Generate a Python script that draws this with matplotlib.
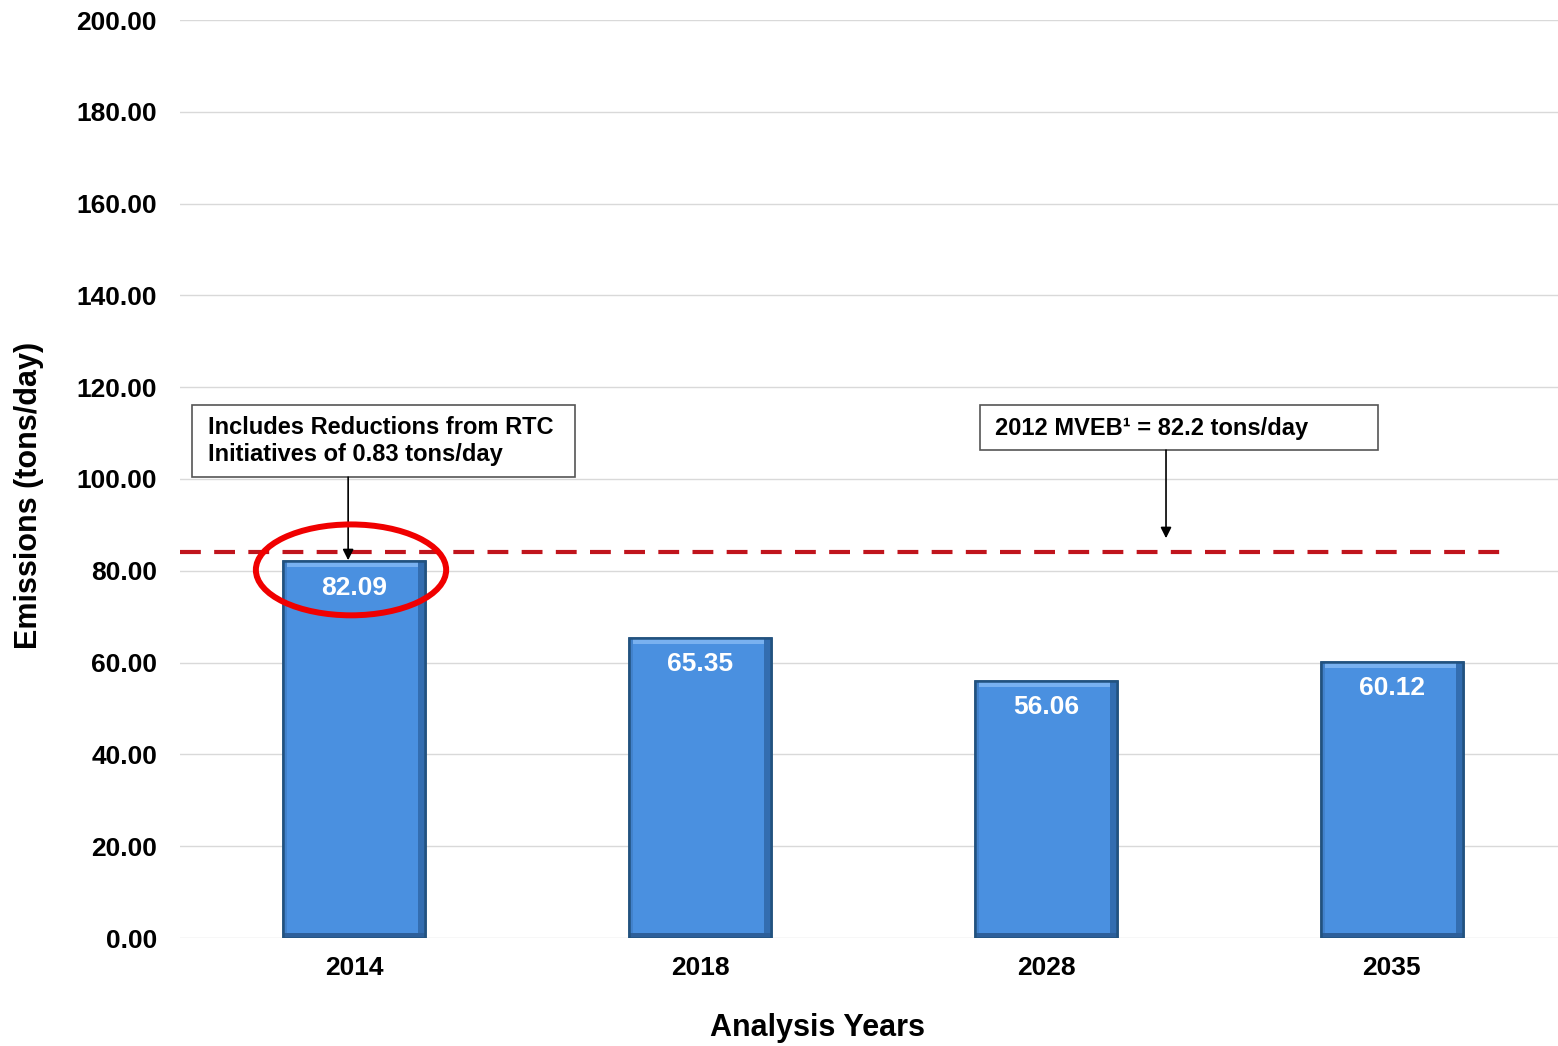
import matplotlib
matplotlib.use("Agg")
import matplotlib.pyplot as plt
from matplotlib.patches import Rectangle, Ellipse

years = ["2014", "2018", "2028", "2035"]
emissions = [82.09, 65.35, 56.06, 60.12]
mveb_line = 84.0
yticks = [0, 20, 40, 60, 80, 100, 120, 140, 160, 180, 200]

plt.rcParams['font.family'] = ['Liberation Sans', 'DejaVu Sans']

fig = plt.figure(figsize=(15.58, 10.46), dpi=100)
ax = fig.add_axes([180/1558, 1-938/1046, 1-180/1558, (938-20)/1046])

x = list(range(len(years)))
bw = 0.41
bars = ax.bar(x, emissions, width=bw, color='#4A90E0', edgecolor='#22527F',
              linewidth=1.8, zorder=3)

# bevel shading derived from bar geometry
for b in bars:
    x0, w, h = b.get_x(), b.get_width(), b.get_height()
    ax.add_patch(Rectangle((x0 + w - 0.02, 0), 0.02, h, facecolor='#336DB0',
                           edgecolor='none', zorder=3.5))
    ax.add_patch(Rectangle((x0, 0), 0.012, h, facecolor='#4282CC',
                           edgecolor='none', zorder=3.5))
    ax.add_patch(Rectangle((x0, 0), w, 1.0, facecolor='#2D5F9A',
                           edgecolor='none', zorder=3.5))
    ax.add_patch(Rectangle((x0 + 0.012, h - 1.3), w - 0.032, 1.3, facecolor='#79B1F0',
                           edgecolor='none', zorder=3.5))
    ax.add_patch(Rectangle((x0, 0), w, h, facecolor='none', edgecolor='#22527F',
                           lw=1.8, zorder=3.6))

for xi, v in zip(x, emissions):
    ax.annotate(f"{v:.2f}", (xi, v), xytext=(0, -19), textcoords='offset points',
                ha='center', va='center', color='white', fontsize=19,
                fontweight='bold', zorder=5)

ax.set_ylim(0, 200)
ax.set_xlim(-0.503, 3.48)
ax.set_yticks(yticks)
ax.set_yticklabels([f"{t:.2f}" for t in yticks], fontsize=19, fontweight='bold')
ax.set_xticks(x)
ax.set_xticklabels(years, fontsize=19, fontweight='bold')
ax.tick_params(length=0, pad=16.5, axis='y')
ax.tick_params(length=0, pad=13, axis='x')
ax.grid(axis='y', color='#D9D9D9', linewidth=1.0, zorder=0)
for s in ax.spines.values():
    s.set_visible(False)

ax.set_ylabel("Emissions (tons/day)", fontsize=22, fontweight='bold')
ax.yaxis.set_label_coords(-(180 - 29) / 1378, 1 - (495 - 20) / 918)
ax.set_xlabel("Analysis Years", fontsize=22, fontweight='bold')
ax.xaxis.set_label_coords((818 - 180) / 1378, -(1028 - 938) / 918)
ax.xaxis.label.set_va('center')
ax.yaxis.label.set_va('center')

# MVEB dashed line
ax.plot([-0.503, 3.341], [mveb_line, mveb_line], color='#C0141C', lw=3.0,
        dashes=(5, 3.2), zorder=4, solid_capstyle='butt', dash_capstyle='butt')

# Annotation box 1
ax.add_patch(Rectangle((-0.468, 100.4), 1.107, 15.7, facecolor='white',
                       edgecolor='#555555', lw=1.2, zorder=6))
ax.text(-0.422, 108.3, "Includes Reductions from RTC\nInitiatives of 0.83 tons/day",
        ha='left', va='center', fontsize=17, fontweight='bold', zorder=7,
        linespacing=1.25)
ax.annotate("", xy=(-0.017, 82.3), xytext=(-0.017, 100.4),
            arrowprops=dict(arrowstyle='-|>', color='black', lw=1.2,
                            mutation_scale=16, shrinkA=0, shrinkB=0), zorder=7)

# Annotation box 2
ax.add_patch(Rectangle((1.809, 106.3), 1.151, 9.8, facecolor='white',
                       edgecolor='#555555', lw=1.2, zorder=6))
ax.text(1.853, 111.1, "2012 MVEB\u00b9 = 82.2 tons/day", ha='left', va='center',
        fontsize=17, fontweight='bold', zorder=7)
ax.annotate("", xy=(2.347, 87.1), xytext=(2.347, 106.3),
            arrowprops=dict(arrowstyle='-|>', color='black', lw=1.2,
                            mutation_scale=16, shrinkA=0, shrinkB=0), zorder=7)

# Red ellipse
ax.add_patch(Ellipse((-0.0087, 80.2), 0.55, 19.8, facecolor='none',
                     edgecolor='#F00000', lw=4.3, zorder=8))

fig.savefig("out.png", dpi=100)
